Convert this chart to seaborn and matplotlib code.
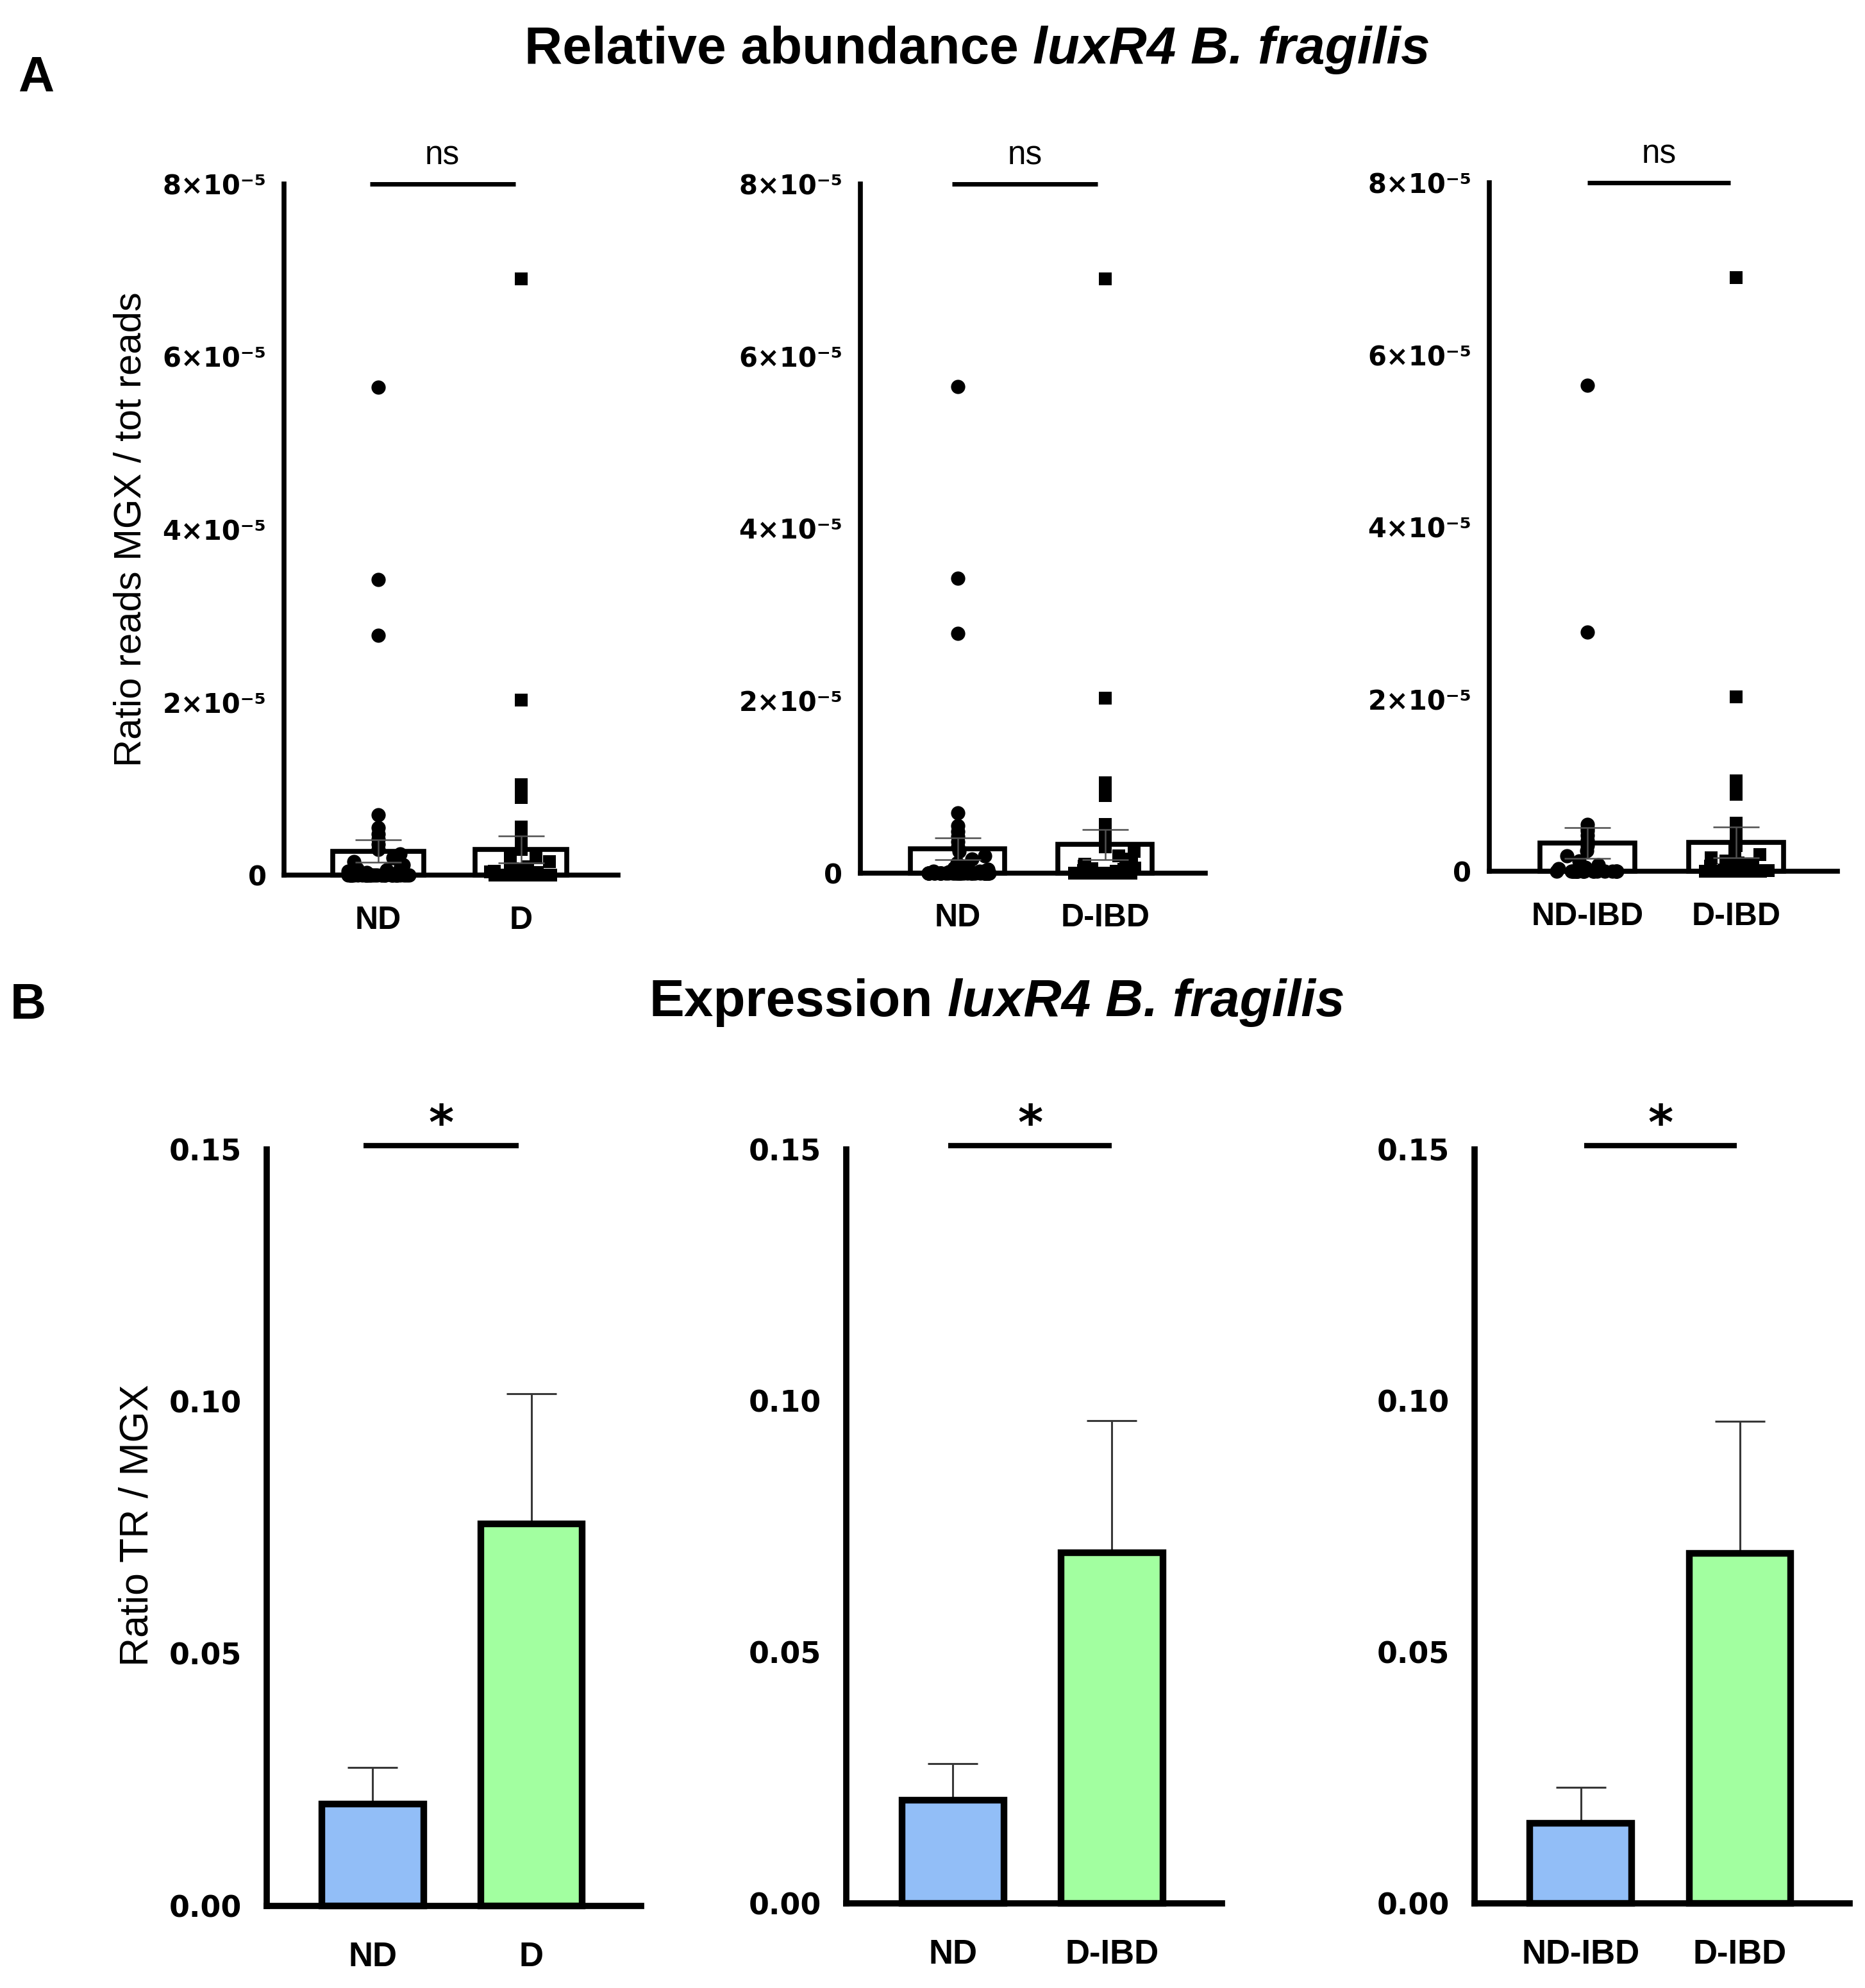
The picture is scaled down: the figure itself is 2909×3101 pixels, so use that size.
import numpy as np
import pandas as pd
import matplotlib
matplotlib.use("Agg")
import matplotlib.pyplot as plt
import seaborn as sns
from matplotlib.transforms import offset_copy

# ---------------- data ----------------
A_title_plain = "Relative abundance"
A_title_italic = "luxR4 B. fragilis"
B_title_plain = "Expression"
B_title_italic = "luxR4 B. fragilis"
A_ylabel = "Ratio reads MGX / tot reads"
B_ylabel = "Ratio TR / MGX"

groups = [["ND", "D"], ["ND", "D-IBD"], ["ND-IBD", "D-IBD"]]

# Panel A individual values (units of 1e-5)
nd_vals = [5.65, 3.42, 2.78, 0.70, 0.55, 0.48, 0.42, 0.36, 0.30, 0.25, 0.20, 0.16,
           0.12, 0.10, 0.08, 0.06, 0.05, 0.04, 0.03, 0.02, 0.02, 0.01, 0.01,
           0.0, 0.0, 0.0, 0.0, 0.0, 0.0, 0.0, 0.0, 0.0, 0.0, 0.0, 0.0,
           0.0, 0.0, 0.0, 0.0, 0.0, 0.0, 0.0, 0.0, 0.0, 0.0, 0.0, 0.0,
           0.0, 0.0, 0.0, 0.0, 0.0, 0.0, 0.0, 0.0, 0.0, 0.0, 0.0, 0.0]
d_vals = [6.90, 2.03, 1.05, 0.97, 0.90, 0.56, 0.50, 0.46, 0.40, 0.35, 0.30, 0.25,
          0.20, 0.16, 0.12, 0.10, 0.08, 0.06, 0.05, 0.04, 0.03, 0.02, 0.02, 0.01, 0.01,
          0.0, 0.0, 0.0, 0.0, 0.0, 0.0, 0.0, 0.0, 0.0, 0.0, 0.0, 0.0, 0.0, 0.0,
          0.0, 0.0, 0.0, 0.0, 0.0, 0.0, 0.0, 0.0, 0.0, 0.0, 0.0, 0.0, 0.0]
d_ibd_vals = [6.90, 2.03, 1.05, 0.97, 0.90, 0.56, 0.50, 0.46, 0.40, 0.35, 0.30, 0.25,
              0.20, 0.16, 0.12, 0.10, 0.08, 0.06, 0.05, 0.04, 0.03, 0.02, 0.02, 0.01, 0.01,
              0.0, 0.0, 0.0, 0.0, 0.0, 0.0, 0.0, 0.0, 0.0, 0.0, 0.0, 0.0, 0.0, 0.0,
              0.0, 0.0, 0.0, 0.0, 0.0, 0.0, 0.0]
nd_ibd_vals = [5.65, 2.78, 0.55, 0.50, 0.47, 0.42, 0.36, 0.30, 0.24, 0.18, 0.12, 0.08,
               0.05, 0.03, 0.02, 0.01,
               0.0, 0.0, 0.0, 0.0, 0.0, 0.0, 0.0, 0.0, 0.0, 0.0,
               0.0, 0.0, 0.0, 0.0, 0.0, 0.0, 0.0, 0.0, 0.0, 0.0]
A_points = [[nd_vals, d_vals], [nd_vals, d_ibd_vals], [nd_ibd_vals, d_ibd_vals]]
A_means = [[0.28, 0.30], [0.28, 0.33], [0.33, 0.34]]
A_sems = [[0.13, 0.155], [0.13, 0.175], [0.18, 0.18]]
A_sig = ["ns", "ns", "ns"]
A_yticks = [0, 2, 4, 6, 8]
A_yticklabels = ["0", "2×10⁻⁵", "4×10⁻⁵", "6×10⁻⁵", "8×10⁻⁵"]

B_means = [[0.0202, 0.0758], [0.0205, 0.0698], [0.0159, 0.0696]]
B_sems = [[0.0072, 0.0258], [0.0072, 0.0262], [0.0072, 0.0263]]
B_sig = ["*", "*", "*"]
B_yticks = [0.00, 0.05, 0.10, 0.15]
B_yticklabels = ["0.00", "0.05", "0.10", "0.15"]

# ---------------- style / layout ----------------
sns.set_style("white")
plt.rcParams["font.family"] = ["Liberation Sans", "DejaVu Sans"]
plt.rcParams["text.color"] = "black"
plt.rcParams["axes.labelcolor"] = "black"
plt.rcParams["xtick.color"] = "black"
plt.rcParams["ytick.color"] = "black"

W, H, DPI = 2909, 3101, 100
fig = plt.figure(figsize=(W / DPI, H / DPI), dpi=DPI)

A_rects = [(0.1524, 0.5597, 0.1789, 0.3478), (0.4613, 0.5609, 0.1850, 0.3466),
           (0.7986, 0.5616, 0.1865, 0.3465)]
B_rects = [(0.1429, 0.0414, 0.2007, 0.3804), (0.4538, 0.0427, 0.2013, 0.3791),
           (0.7905, 0.0427, 0.2013, 0.3791)]
A_siglines = [(-0.06, 0.96), (-0.04, 0.95), (0.0, 0.96)]
B_siglines = [(-0.06, 0.92), (-0.03, 1.0), (0.02, 0.98)]
markers = ["o", "s"]
bar_colors = ["#92BEF7", "#A2FFA0"]
hi_thresh = 0.3
np.random.seed(11)


def style_axes(ax, lw, ylen, xlen, xpad, ypad):
    sns.despine(ax=ax)
    for s in ["left", "bottom"]:
        ax.spines[s].set_linewidth(lw)
        ax.spines[s].set_color("black")
        ax.spines[s].set_zorder(2.5)
    ax.tick_params(axis="y", direction="out", length=ylen, width=lw, pad=ypad, colors="black")
    ax.tick_params(axis="x", direction="out", length=xlen, width=lw, pad=xpad, colors="black")
    ax.set_xlabel("")
    ax.set_ylabel("")


# ---------------- Panel A ----------------
for i, rect in enumerate(A_rects):
    ax = fig.add_axes(rect)
    cats = groups[i]
    mdf = pd.DataFrame({"group": cats, "value": A_means[i]})
    sns.barplot(data=mdf, x="group", y="value", order=cats, color="white", saturation=1,
                edgecolor="black", linewidth=5.5, width=0.64, errorbar=None, ax=ax, zorder=1)
    for j, cat in enumerate(cats):
        vals = np.array(A_points[i][j])
        hi = vals[vals >= hi_thresh]
        lo = vals[vals < hi_thresh]
        sz = 16 if j == 0 else 15
        sns.stripplot(x=[cat] * len(hi), y=hi, order=cats, jitter=False, marker=markers[j],
                      color="black", size=sz, linewidth=0, ax=ax, zorder=3)
        sns.stripplot(x=[cat] * len(lo), y=lo, order=cats, jitter=0.22, marker=markers[j],
                      color="black", size=sz, linewidth=0, ax=ax, zorder=3)
    ax.errorbar(x=[0, 1], y=A_means[i], yerr=A_sems[i], fmt="none", ecolor="#505050",
                elinewidth=1.8, capsize=26, capthick=1.8, zorder=4)
    ax.set_ylim(0, 8)
    ax.set_xlim(-0.66, 1.68)
    ax.set_yticks(A_yticks)
    ax.set_yticklabels(A_yticklabels, fontsize=30, fontweight="bold", family="DejaVu Sans")
    ax.set_xticks([0, 1])
    ax.set_xticklabels(cats, fontsize=36, fontweight="bold", family="Liberation Sans")
    style_axes(ax, 5.5, 16, 20, 14, 4)
    for art in list(ax.collections) + list(ax.patches) + list(ax.lines):
        art.set_clip_on(False)
    x0, x1 = A_siglines[i]
    ax.plot([x0, x1], [8, 8], color="black", lw=5, solid_capstyle="butt", clip_on=False)
    tr = offset_copy(ax.transData, fig=fig, x=0, y=22, units="points")
    ax.text((x0 + x1) / 2, 8, A_sig[i], transform=tr, ha="center", va="baseline",
            fontsize=37, family="Liberation Sans", color="black")

# ---------------- Panel B ----------------
for i, rect in enumerate(B_rects):
    ax = fig.add_axes(rect)
    cats = groups[i]
    mdf = pd.DataFrame({"group": cats, "value": B_means[i]})
    ax.errorbar(x=[0, 1], y=B_means[i], yerr=[[0, 0], B_sems[i]], fmt="none",
                ecolor="#383838", elinewidth=2.2, capsize=28, capthick=2.2, zorder=0.5)
    sns.barplot(data=mdf, x="group", y="value", order=cats, hue="group", hue_order=cats,
                palette=bar_colors, saturation=1, legend=False, edgecolor="black",
                linewidth=7.5, width=0.64, errorbar=None, ax=ax, zorder=1)
    ax.set_ylim(0, 0.15)
    ax.set_xlim(-0.67, 1.69)
    ax.set_yticks(B_yticks)
    ax.set_yticklabels(B_yticklabels, fontsize=33, fontweight="bold", family="DejaVu Sans")
    ax.set_xticks([0, 1])
    ax.set_xticklabels(cats, fontsize=38, fontweight="bold", family="Liberation Sans")
    style_axes(ax, 7, 22, 23, 17, 6)
    for art in list(ax.collections) + list(ax.patches) + list(ax.lines):
        art.set_clip_on(False)
    x0, x1 = B_siglines[i]
    ax.plot([x0, x1], [0.1508, 0.1508], color="black", lw=6, solid_capstyle="butt",
            clip_on=False)
    tr = offset_copy(ax.transData, fig=fig, x=0, y=7, units="points")
    ax.text((x0 + x1) / 2, 0.1508, B_sig[i], transform=tr, ha="center", va="baseline",
            fontsize=54, fontweight="bold", family="DejaVu Sans", color="black")

# ---------------- labels & titles ----------------
fig.text(0.0701, 0.7336, A_ylabel, rotation=90, ha="center", va="center",
         fontsize=43, family="Liberation Sans", color="black")
fig.text(0.0735, 0.2328, B_ylabel, rotation=90, ha="center", va="center",
         fontsize=45, family="Liberation Sans", color="black")
fig.text(0.0096, 0.954, "A", fontsize=56, fontweight="bold", ha="left", va="baseline",
         family="Liberation Sans", color="black")
fig.text(0.0055, 0.4876, "B", fontsize=56, fontweight="bold", ha="left", va="baseline",
         family="Liberation Sans", color="black")

renderer = fig.canvas.get_renderer()


def mixed_title(xc, y, plain, italic, size):
    t1 = fig.text(0, y, plain, fontsize=size, fontweight="bold", ha="left",
                  va="baseline", family="Liberation Sans", color="black")
    t2 = fig.text(0, y, italic, fontsize=size, fontweight="bold", style="italic",
                  ha="left", va="baseline", family="Liberation Sans", color="black")
    w1 = t1.get_window_extent(renderer).width
    w2 = t2.get_window_extent(renderer).width
    gap = 0.278 * size * DPI / 72
    total = w1 + gap + w2
    xs = xc * W - total / 2
    t1.set_x(xs / W)
    t2.set_x((xs + w1 + gap) / W)


mixed_title(0.524, 0.968, A_title_plain, A_title_italic, 59)
mixed_title(0.5347, 0.489, B_title_plain, B_title_italic, 59)

fig.savefig("out.png", dpi=DPI)
